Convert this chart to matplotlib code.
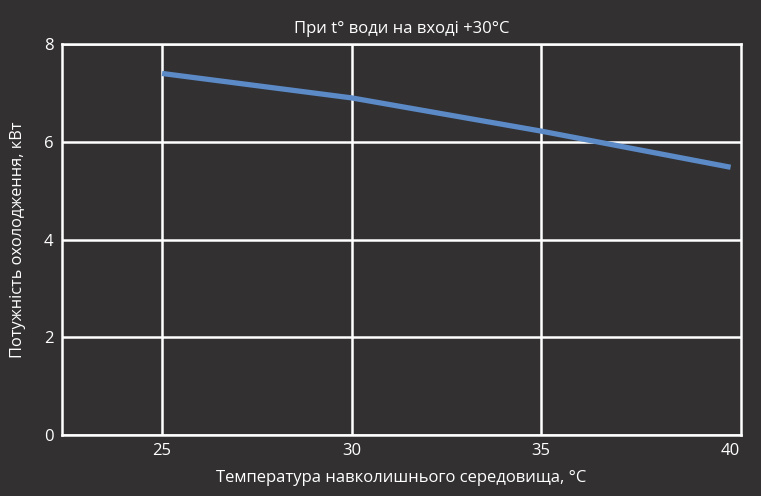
import matplotlib
matplotlib.use("Agg")
import matplotlib.pyplot as plt

ambient_t = [25, 30, 35, 40]
cooling_kw = [7.4, 6.9, 6.22, 5.48]
x_ticks = [25, 30, 35, 40]
y_ticks = [0, 2, 4, 6, 8]

bg = "#323031"
plt.rcParams['font.family'] = ['Open Sans', 'DejaVu Sans']

fig = plt.figure(figsize=(7.61, 4.96), dpi=100, facecolor=bg)
ax = fig.add_axes([0.0815, 0.123, 0.8925, 0.788], facecolor=bg)

ax.plot(ambient_t, cooling_kw, color="#5b8ac6", lw=3.8, solid_capstyle="butt", zorder=3)

ax.set_xlim(22.36, 40.28)
ax.set_ylim(0, 8)
ax.set_xticks(x_ticks)
ax.set_yticks(y_ticks)
ax.grid(axis="y", color="white", lw=1.8)
# vertical grid only for the inner ticks (40 sits next to the right border)
ax.vlines(x_ticks[:-1], 0, 8, color="white", lw=1.8, zorder=1)
ax.tick_params(length=0, colors="white", labelsize=12, pad=6)
for s in ax.spines.values():
    s.set_color("white")
    s.set_linewidth(1.8)

ax.set_title("При t° води на вході +30°C", color="white", fontsize=12, pad=8)
ax.set_xlabel("Температура навколишнього середовища, °C", color="white", fontsize=12, labelpad=8)
ax.set_ylabel("Потужність охолодження, кВт", color="white", fontsize=11.8, labelpad=13)

fig.savefig("out.png", dpi=100, facecolor=bg)
